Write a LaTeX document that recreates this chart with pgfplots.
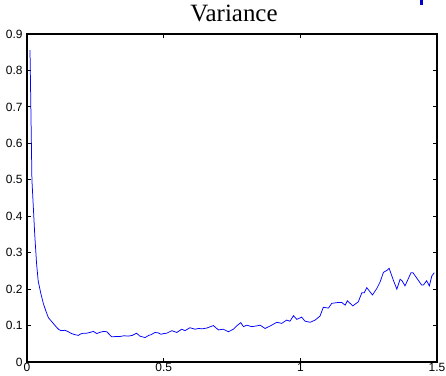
\documentclass[border=0pt]{standalone}
\usepackage{fontspec}
\setmainfont{Liberation Sans}
\newfontfamily\titlefont{Liberation Serif}
\usepackage{pgfplots}
\pgfplotsset{compat=1.18}
\begin{document}
\begin{tikzpicture}
\useasboundingbox (-27bp,-14bp) rectangle (419bp,362bp);
\fill[blue!80!black] (393bp,357bp) rectangle (395.5bp,362bp);
\begin{axis}[
  at={(0,0)}, anchor=south west,
  scale only axis, width=410bp, height=328bp,
  xmin=0, xmax=1.5, ymin=0, ymax=0.9,
  xtick={0,0.5,1,1.5}, ytick={0,0.1,...,0.9},
  tick align=inside, major tick length=4bp,
  axis line style={line width=1.1pt},
  every tick/.style={black, line width=0.8pt},
  tick label style={font=\fontsize{12}{12}\selectfont},
  /pgf/number format/assume math mode=true,
  yticklabel style={xshift=-1bp},
  xticklabel style={yshift=2.5bp},
  title={\titlefont\fontsize{25}{26}\selectfont Variance},
  title style={at={(0.5,1)}, anchor=base, yshift=7bp, xshift=2bp},
]
\addplot[blue, line width=0.75pt] coordinates {
(0.011,0.856) (0.018,0.50) (0.028,0.354) (0.035,0.27) (0.041,0.222)
(0.050,0.19) (0.060,0.16) (0.070,0.138) (0.078,0.122) (0.088,0.113)
(0.096,0.106) (0.106,0.097) (0.115,0.09) (0.124,0.086) (0.139,0.087)
(0.151,0.083) (0.163,0.078) (0.175,0.075) (0.188,0.073) (0.196,0.077)
(0.206,0.079) (0.218,0.079) (0.230,0.081) (0.243,0.084) (0.255,0.078)
(0.265,0.081) (0.280,0.084) (0.292,0.083) (0.310,0.069) (0.325,0.070)
(0.340,0.070) (0.355,0.072) (0.370,0.071) (0.385,0.073) (0.401,0.079)
(0.413,0.071) (0.432,0.067) (0.445,0.073) (0.454,0.075) (0.468,0.081)
(0.480,0.080) (0.490,0.076) (0.500,0.078) (0.511,0.079) (0.530,0.086)
(0.548,0.081) (0.566,0.090) (0.578,0.086) (0.596,0.094) (0.615,0.090)
(0.628,0.092) (0.640,0.091) (0.657,0.093) (0.668,0.096) (0.682,0.100)
(0.700,0.088) (0.718,0.090) (0.737,0.083) (0.755,0.090) (0.767,0.099)
(0.782,0.108) (0.792,0.097) (0.804,0.101) (0.822,0.097) (0.840,0.099)
(0.853,0.101) (0.871,0.092) (0.890,0.099) (0.914,0.109) (0.932,0.106)
(0.950,0.115) (0.962,0.112) (0.975,0.127) (0.987,0.117) (1.005,0.123)
(1.017,0.112) (1.036,0.109) (1.054,0.115) (1.072,0.126) (1.084,0.150)
(1.103,0.148) (1.115,0.161) (1.135,0.163) (1.152,0.163) (1.164,0.156)
(1.172,0.168) (1.192,0.154) (1.208,0.163) (1.212,0.165) (1.225,0.190)
(1.234,0.190) (1.243,0.204) (1.264,0.184) (1.280,0.202) (1.292,0.220)
(1.304,0.246) (1.316,0.251) (1.325,0.257) (1.340,0.225) (1.353,0.200)
(1.365,0.227) (1.372,0.223) (1.383,0.209) (1.405,0.245) (1.412,0.245)
(1.444,0.211) (1.450,0.211) (1.462,0.223) (1.472,0.209) (1.481,0.236)
(1.490,0.245)
};
\end{axis}
\end{tikzpicture}
\end{document}
